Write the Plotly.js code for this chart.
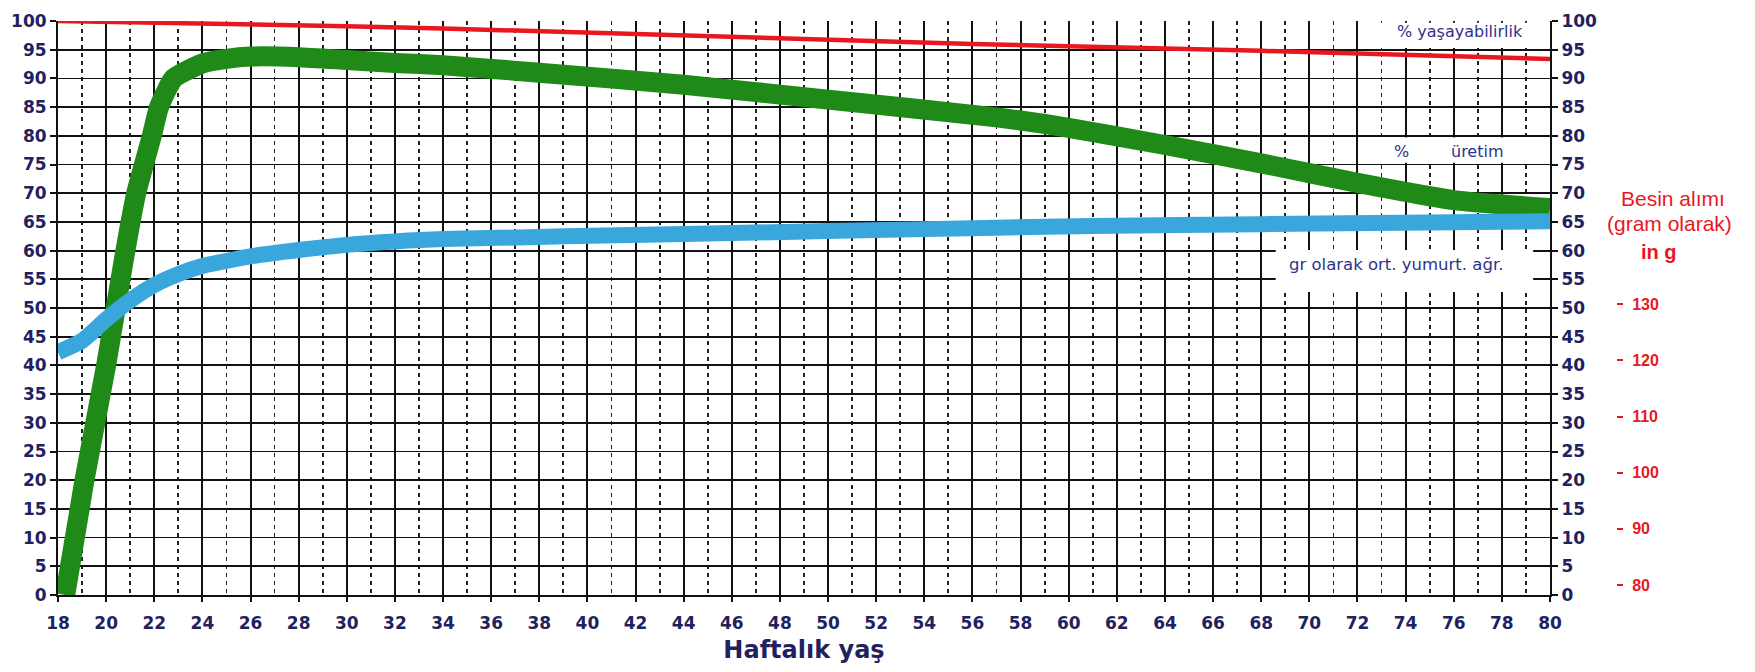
<!DOCTYPE html>
<html>
<head>
<meta charset="utf-8">
<script src="https://cdn.plot.ly/plotly-3.0.1.min.js"></script>
<style>html,body{margin:0;padding:0;background:#fff;}#chart{width:1755px;height:672px;}</style>
</head>
<body>
<div id="chart"></div>
<script>
// Production % (green)
const weeksProd = [18.3, 19.1, 20, 20.4, 20.8, 21.25, 21.9, 22.2, 22.8, 24, 25, 26, 28, 30, 32, 34, 38, 44, 50, 57, 60, 64, 68, 72, 76, 80];
const production = [0, 20, 40, 50, 60, 70, 80, 85, 90, 92.6, 93.4, 93.8, 93.7, 93.2, 92.7, 92.3, 91.0, 88.9, 86.3, 83.2, 81.4, 78.4, 75.2, 71.8, 68.8, 67.4];
// Average egg weight in g (blue)
const weeksEgg = [18, 19, 20, 21, 22, 23, 24, 26, 28, 30, 32, 34, 44, 50, 57, 61, 68, 75, 80];
const eggWeight = [42.3, 44.3, 48, 51.3, 54, 55.9, 57.3, 59, 60.1, 61, 61.6, 62.0, 62.9, 63.4, 64.0, 64.3, 64.6, 64.9, 65.1];
// Livability % (red)
const weeksLiv = [18, 24, 30, 34, 44, 56, 68, 80];
const livability = [100, 99.6, 99.1, 98.7, 97.4, 96.0, 94.8, 93.4];
// Feed intake axis ticks (red)
const feedTickVals = [80, 90, 100, 110, 120, 130];
const feedTickText = ['80', '90', '100', '110', '120', '130'];
// Labels
const labelLiv = '% yaşayabilirlik';
const labelProdPct = '%';
const labelProd = 'üretim';
const labelEgg = 'gr olarak ort. yumurt. ağr.';
const xTitle = 'Haftalık yaş';
const feedTitle = ['Besin alımı', '(gram olarak)', 'in g'];

const navy = '#1f2260';
const red = '#e8181e';
const gridC = '#111';
const tickFont = {family: 'DejaVu Sans', size: 17, color: navy, weight: 'bold'};

const traces = [
  {x: weeksProd, y: production, mode: 'lines', line: {color: '#1f8a17', width: 20, shape: 'spline', smoothing: 0.5}, hoverinfo: 'skip'},
  {x: weeksEgg, y: eggWeight, mode: 'lines', line: {color: '#3aa7dc', width: 16, shape: 'spline', smoothing: 0.6}, hoverinfo: 'skip'},
  {x: weeksLiv, y: livability, yaxis: 'y2', mode: 'lines', line: {color: red, width: 4.5}, hoverinfo: 'skip'},
  {x: [weeksLiv[0]], y: [feedTickVals[0]], yaxis: 'y3', mode: 'markers', marker: {opacity: 0}, hoverinfo: 'skip'}
];

const d = (1550 - 58) / 1697;
const p = (1616 - 58) / 1697;
const px = v => (v - 58) / 1697;
const py = v => (595 - v) / 574;

const layout = {
  width: 1755, height: 672,
  margin: {l: 58, r: 0, t: 21, b: 77},
  paper_bgcolor: '#fff', plot_bgcolor: '#fff',
  showlegend: false,
  xaxis: {
    domain: [0, d], range: [18, 80], tick0: 18, dtick: 2,
    ticks: 'outside', ticklen: 5, tickwidth: 2, tickcolor: '#111',
    showgrid: true, gridcolor: gridC, gridwidth: 2,
    minor: {tick0: 18, dtick: 1, showgrid: true, gridcolor: '#222', gridwidth: 1.8, griddash: '4px,4px'},
    showline: true, linecolor: '#111', linewidth: 2, zeroline: false,
    tickfont: tickFont, ticklabelstandoff: 7,
    title: {text: xTitle, font: {family: 'DejaVu Sans', size: 24, color: navy, weight: 'bold'}, standoff: 9},
    automargin: false, fixedrange: true
  },
  yaxis: {
    range: [0, 100], tick0: 0, dtick: 5,
    ticks: 'outside', ticklen: 6, tickwidth: 2, tickcolor: '#111',
    showgrid: true, gridcolor: gridC, gridwidth: 1.8,
    showline: true, linecolor: '#111', linewidth: 2, zeroline: false,
    tickfont: tickFont, automargin: false, fixedrange: true
  },
  yaxis2: {
    overlaying: 'y', side: 'right', anchor: 'x', range: [0, 100], tick0: 0, dtick: 5,
    ticks: 'outside', ticklen: 6, tickwidth: 2, tickcolor: '#111',
    showgrid: false, showline: true, linecolor: '#111', linewidth: 2, zeroline: false,
    tickfont: tickFont, automargin: false, fixedrange: true
  },
  yaxis3: {
    overlaying: 'y', side: 'right', anchor: 'free', position: p, range: [78.2, 180.5],
    tickvals: feedTickVals, ticktext: feedTickText,
    ticks: 'outside', ticklen: 6, tickwidth: 2, tickcolor: red,
    showgrid: false, showline: false, zeroline: false, ticklabelstandoff: 6,
    tickfont: {family: 'Liberation Sans', size: 16, color: red, weight: 'bold'},
    automargin: false, fixedrange: true
  },
  shapes: [
    {type: 'rect', xref: 'x', yref: 'y', x0: 72.4, x1: 79.4, y0: 95.3, y1: 99.7, fillcolor: '#fff', line: {width: 0}, layer: 'between'},
    {type: 'rect', xref: 'x', yref: 'y', x0: 72.15, x1: 80, y0: 75.3, y1: 79.7, fillcolor: '#fff', line: {width: 0}, layer: 'between'},
    {type: 'rect', xref: 'x', yref: 'y', x0: 68.6, x1: 79.3, y0: 52.8, y1: 60.1, fillcolor: '#fff', line: {width: 0}, layer: 'between'}
  ],
  annotations: [
    {xref: 'x', yref: 'y', x: 76.27, y: 98.2, text: labelLiv, showarrow: false, font: {family: 'DejaVu Sans', size: 16, color: '#2e3288'}},
    {xref: 'x', yref: 'y', x: 73.82, y: 77.3, text: labelProdPct, showarrow: false, font: {family: 'DejaVu Sans', size: 16, color: '#2e3288'}},
    {xref: 'x', yref: 'y', x: 76.98, y: 77.3, text: labelProd, showarrow: false, font: {family: 'DejaVu Sans', size: 16, color: '#2e3288'}},
    {xref: 'x', yref: 'y', x: 73.6, y: 57.5, text: labelEgg, showarrow: false, font: {family: 'DejaVu Sans', size: 16.5, color: '#2e3288'}},
    {xref: 'paper', yref: 'paper', xanchor: 'center', yanchor: 'middle', x: px(1673), y: py(198), text: feedTitle[0], showarrow: false, font: {family: 'Liberation Sans', size: 21, color: red}},
    {xref: 'paper', yref: 'paper', xanchor: 'center', yanchor: 'middle', x: px(1669), y: py(223), text: feedTitle[1], showarrow: false, font: {family: 'Liberation Sans', size: 21, color: red}},
    {xref: 'paper', yref: 'paper', xanchor: 'center', yanchor: 'middle', x: px(1659), y: py(252), text: feedTitle[2], showarrow: false, font: {family: 'Liberation Sans', size: 20, color: red, weight: 'bold'}}
  ]
};

Plotly.newPlot('chart', traces, layout, {staticPlot: true, displayModeBar: false});
</script>
</body>
</html>
